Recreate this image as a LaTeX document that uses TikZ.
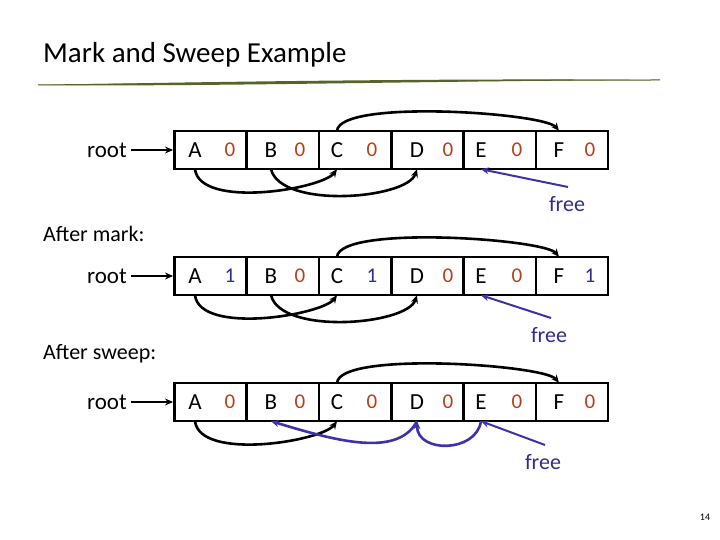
\documentclass[tikz,border=0pt]{standalone}
\usepackage{fontspec}
\setmainfont{Carlito}
\usetikzlibrary{arrows.meta}
\definecolor{zred}{RGB}{185,60,25}
\definecolor{zblue}{RGB}{45,45,140}
\definecolor{zarr}{RGB}{60,50,170}
\definecolor{zolive}{RGB}{85,100,40}
\begin{document}
\begin{tikzpicture}[x=1pt,y=-1pt,
  cell/.style={draw,line width=2.6pt,minimum width=72.3pt,minimum height=38pt,inner sep=0},
  let/.style={font=\fontsize{23}{23}\selectfont,inner sep=0,minimum height=38pt},
  num/.style={font=\fontsize{21}{21}\selectfont,text=zred,inner sep=0},
  one/.style={font=\fontsize{21}{21}\selectfont,text=zblue,inner sep=0},
  lbl/.style={font=\fontsize{22}{22}\selectfont,anchor=west,inner sep=0},
  ptr/.style={line width=2.6pt,-{Stealth[length=8pt,width=7pt]}},
  bptr/.style={line width=2.6pt,draw=zarr,-{Stealth[length=8pt,width=7pt]}},
  fr/.style={font=\fontsize{22}{22}\selectfont,text=zblue,inner sep=0}]
\useasboundingbox (0,0) rectangle (720,540);
\node[anchor=west,inner sep=0,font=\fontsize{29}{29}\selectfont] (title) at (43,55) {Mark and Sweep Example};
\fill[zolive] (38,85) .. controls (200,82) and (450,78) .. (660,80) .. controls (450,80.5) and (200,87) .. (38,85) -- cycle;
\draw[zolive,line width=1pt] (38,85) .. controls (250,83) and (450,80) .. (660,80);
\node[lbl] (am) at (43,234) {After mark:};
\node[lbl] (as) at (43,354) {After sweep:};
\node[inner sep=0,font=\fontsize{10}{10}\selectfont] (pg) at (705,517) {14};
\foreach \r/\y in {1/150,2/276,3/402}{
  \node[let] (root\r) at (107,\y) {root};
  \foreach \c/\x in {a/173,b/245.3,c/317.6,d/389.9,e/462.2,f/534.5}
    \node[cell,anchor=west] (r\r\c) at (\x,\y) {};
  \node[let] (r\r A) at (195,\y) {A};
  \node[let] (r\r B) at (271,\y) {B};
  \node[let] (r\r C) at (337,\y) {C};
  \node[let] (r\r D) at (417,\y) {D};
  \node[let] (r\r E) at (481,\y) {E};
  \node[let] (r\r F) at (559,\y) {F};
  \draw[ptr] (root\r.east) ++(4,0) coordinate (rs\r) (rs\r) -- (r\r a.west);
  \draw[ptr] (r\r C.north) .. controls +(3,-32) and +(-15,-18) .. (r\r F.north);
  \draw[ptr] (r\r A.south) .. controls +(5,40) and +(-15,20) .. (r\r C.south);
}
\foreach \r/\y in {1/150,3/402}{
  \foreach \n/\x in {a/230,b/300,c/372,d/448,e/517,f/590}
    \node[num] (n\r\n) at (\x,\y) {0};
}
\node[one] (n2a) at (230,276) {1};\node[num] (n2b) at (300,276) {0};\node[one] (n2c) at (372,276) {1};
\node[num] (n2d) at (448,276) {0};\node[num] (n2e) at (517,276) {0};\node[one] (n2f) at (590,276) {1};
\foreach \r in {1,2}{
  \draw[ptr] (r\r B.south) .. controls +(10,40) and +(-10,30) .. (r\r D.south);
}
\draw[bptr] (r3D.south) .. controls +(-20,38) and +(60,18) .. (r3B.south);
\draw[bptr] (r3E.south) .. controls +(-5,32) and +(0,32) .. (r3D.south);
\node[fr] (f1) at (567,204) {free};
\node[fr] (f2) at (549,335) {free};
\node[fr] (f3) at (543,462) {free};
\coordinate (fs1) at (568,187);
\coordinate (fs2) at (551,318);
\coordinate (fs3) at (545,445);
\foreach \r in {1,2,3}
  \draw[bptr,line width=2pt] (fs\r) -- (r\r E.south);
\end{tikzpicture}
\end{document}
